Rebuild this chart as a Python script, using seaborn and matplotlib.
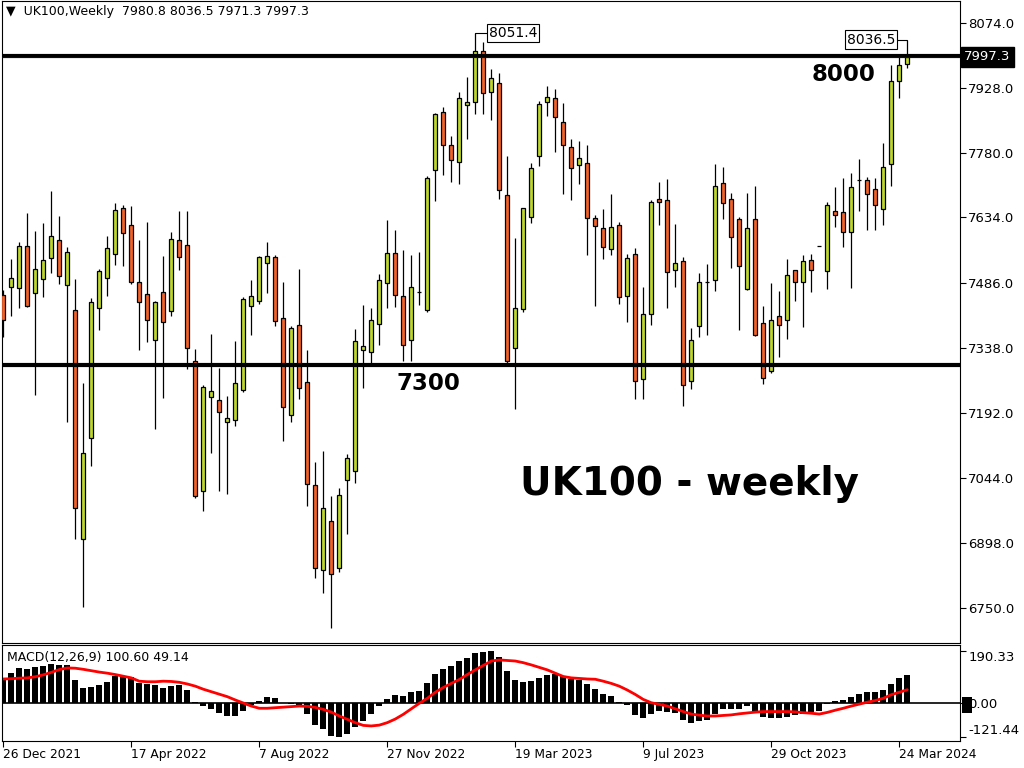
import numpy as np
import pandas as pd
import matplotlib
matplotlib.use("Agg")
import matplotlib.pyplot as plt
import matplotlib.transforms as mtransforms
from matplotlib.patches import Rectangle
import seaborn as sns

# weekly OHLC, UK100
opens = [7458, 7476, 7474, 7569, 7462, 7494, 7543, 7584, 7480, 7424,
         6906, 7134, 7428, 7496, 7551, 7655, 7616, 7489, 7460, 7356,
         7465, 7422, 7582, 7571, 7308, 7016, 7227, 7220, 7170, 7175,
         7244, 7433, 7446, 7532, 7544, 7406, 7188, 7390, 7261, 7028,
         6835, 6946, 6840, 7039, 7060, 7333, 7329, 7392, 7485, 7553,
         7456, 7356, 7466, 7424, 7741, 7872, 7797, 7759, 7888, 7895,
         8010, 7917, 7938, 7684, 7338, 7426, 7634, 7772, 7895, 7904,
         7849, 7793, 7752, 7757, 7632, 7609, 7562, 7616, 7456, 7551,
         7268, 7415, 7675, 7673, 7514, 7535, 7263, 7388, 7489, 7492,
         7711, 7675, 7630, 7471, 7630, 7394, 7286, 7412, 7401, 7514,
         7489, 7537, 7570, 7512, 7648, 7646, 7600, 7718, 7718, 7698,
         7652, 7754, 7942, 7980.8]
highs = [7470, 7540, 7578, 7644, 7603, 7621, 7694, 7637, 7566, 7495,
         7259, 7452, 7517, 7592, 7667, 7662, 7660, 7583, 7624, 7444,
         7547, 7600, 7649, 7649, 7336, 7255, 7370, 7294, 7230, 7354,
         7453, 7492, 7546, 7578, 7549, 7488, 7388, 7517, 7334, 7081,
         7106, 7004, 7021, 7099, 7381, 7436, 7429, 7506, 7628, 7606,
         7560, 7549, 7556, 7728, 7870, 7883, 7818, 7918, 7952, 8051.4,
         8030, 7971, 7961, 7773, 7587, 7656, 7757, 7898, 7931, 7925,
         7894, 7812, 7807, 7798, 7640, 7653, 7687, 7624, 7551, 7564,
         7477, 7673, 7714, 7721, 7619, 7544, 7384, 7508, 7529, 7755,
         7748, 7689, 7635, 7689, 7705, 7434, 7486, 7468, 7540, 7516,
         7549, 7552, 7570, 7668, 7703, 7723, 7735, 7766, 7725, 7723,
         7803, 7978, 7996, 8036.5]
lows = [7363, 7412, 7428, 7432, 7233, 7455, 7509, 7484, 7170, 6907,
        6753, 7072, 7380, 7457, 7527, 7525, 7484, 7333, 7351, 7155,
        7226, 7412, 7516, 7290, 6998, 6970, 7102, 7016, 7009, 7163,
        7240, 7368, 7437, 7462, 7389, 7129, 7172, 7224, 6980, 6817,
        6783, 6704, 6832, 6917, 7032, 7247, 7305, 7345, 7428, 7432,
        7308, 7308, 7436, 7421, 7672, 7729, 7715, 7710, 7811, 7869,
        7869, 7855, 7675, 7304, 7200, 7421, 7622, 7751, 7864, 7781,
        7686, 7674, 7709, 7550, 7434, 7539, 7550, 7437, 7398, 7222,
        7222, 7391, 7618, 7428, 7477, 7208, 7245, 7364, 7369, 7468,
        7631, 7520, 7380, 7469, 7366, 7256, 7281, 7319, 7360, 7446,
        7387, 7465, 7570, 7471, 7613, 7566, 7475, 7649, 7606, 7606,
        7618, 7704, 7904, 7971.3]
closes = [7401, 7498, 7569, 7434, 7517, 7537, 7591, 7501, 7555, 6976,
          7102, 7442, 7512, 7564, 7650, 7598, 7487, 7442, 7403, 7442,
          7397, 7585, 7544, 7338, 7004, 7250, 7241, 7193, 7179, 7259,
          7449, 7456, 7544, 7546, 7399, 7204, 7383, 7247, 7030, 6840,
          6976, 6826, 7005, 7089, 7355, 7342, 7401, 7492, 7553, 7458,
          7345, 7476, 7465, 7723, 7867, 7797, 7763, 7904, 7895, 8010,
          7915, 7949, 7695, 7308, 7428, 7655, 7745, 7890, 7906, 7861,
          7797, 7745, 7768, 7632, 7614, 7566, 7612, 7453, 7542, 7263,
          7415, 7670, 7668, 7510, 7532, 7254, 7356, 7487, 7489, 7704,
          7666, 7589, 7523, 7609, 7369, 7270, 7401, 7390, 7503, 7489,
          7535, 7514, 7570, 7661, 7639, 7600, 7702, 7718, 7686, 7661,
          7747, 7942, 7980, 7997.3]

# MACD(12,26,9) histogram and signal line
macd_main = [93, 110, 128, 124, 133, 135, 142, 140, 140, 85,
             57, 59, 66, 77, 97, 99, 95, 75, 71, 66,
             56, 63, 66, 48, 5, -10, -19, -34, -45, -45,
             -27, -7, 7, 23, 19, 0, -1, -11, -37, -77,
             -92, -117, -121.44, -112, -85, -63, -37, -11, 16, 30,
             27, 40, 45, 75, 106, 124, 135, 153, 164, 182,
             186, 190.33, 168, 117, 85, 77, 81, 92, 103, 107,
             99, 89, 85, 71, 52, 34, 27, 5, -5, -41,
             -52, -37, -27, -30, -36, -60, -70, -63, -59, -39,
             -22, -21, -19, -11, -31, -49, -52, -55, -48, -43,
             -39, -31, -27, -2, 7, 12, 23, 35, 40, 41,
             48, 70, 92, 100.60]
macd_signal = [88, 89, 91, 92, 96, 103, 112, 122, 128, 127,
               123, 118, 113, 109, 104, 98, 92, 80, 78, 78,
               80, 79, 76, 70, 62, 51, 42, 33, 24, 12,
               1, -10, -18, -18, -16, -14, -12, -10, -11, -15,
               -22, -32, -46, -58, -70, -80, -82, -79, -70, -57,
               -40, -20, 0, 18, 40, 57, 72, 86, 104, 121,
               137, 153, 157, 155, 153, 147, 139, 130, 121, 109,
               97, 92, 90, 88, 87, 80, 72, 62, 48, 32,
               14, 2, -4, -10, -20, -30, -39, -43, -46, -46,
               -44, -42, -38, -35, -32, -30, -30, -30, -30, -31,
               -34, -36, -39, -33, -25, -18, -10, -3, 4, 10,
               18, 31, 40, 49.14]

date_ticks = [0, 16, 32, 48, 64, 80, 96, 112]
date_labels = ['26 Dec 2021', '17 Apr 2022', '7 Aug 2022', '27 Nov 2022',
               '19 Mar 2023', '9 Jul 2023', '29 Oct 2023', '24 Mar 2024']
price_ticks = [8074.0, 7928.0, 7780.0, 7634.0, 7486.0, 7338.0, 7192.0, 7044.0, 6898.0, 6750.0]
macd_ticks = [190.33, 0.0, -121.44]
levels = [8000, 7300]
last_price = 7997.3

GREEN = '#BFD730'
ORANGE = '#F4622A'

sns.set_theme(style="white")
plt.rcParams['font.family'] = ['DejaVu Sans']
plt.rcParams['text.color'] = 'black'

W, H = 1024, 768
fig = plt.figure(figsize=(W / 100, H / 100), dpi=100)


def px_rect(x0, y0, x1, y1):
    return [x0 / W, 1 - y1 / H, (x1 - x0) / W, (y1 - y0) / H]


ax = fig.add_axes(px_rect(2, 1, 960, 643))
ax2 = fig.add_axes(px_rect(2, 645, 960, 741))

df = pd.DataFrame({'open': opens, 'high': highs, 'low': lows, 'close': closes})
df['week'] = np.arange(len(df))
bull = df['close'] >= df['open']
body_lo = df[['open', 'close']].min(axis=1)
body_hi = df[['open', 'close']].max(axis=1)

# candles
ax.vlines(df['week'], df['low'], df['high'], color='black', lw=0.9, zorder=2)
ax.bar(df['week'], body_hi - body_lo, bottom=body_lo, width=0.5,
       color=np.where(bull, GREEN, ORANGE), edgecolor='black', linewidth=0.9, zorder=3)

for lv in levels:
    ax.axhline(lv, color='black', lw=3.0, zorder=4)
ax.axhline(last_price, color='#000080', lw=0.7, zorder=5)

ax.set_xlim(-0.1625, 119.59)
ax.set_ylim(6670.9, 8123.8)

# annotations
ax.text(101.09, 7943.4, '8000', fontsize=16.5, fontweight='bold', color='black',
        ha='left', va='baseline', zorder=6)
ax.text(49.09, 7243.5, '7300', fontsize=16.5, fontweight='bold', color='black',
        ha='left', va='baseline', zorder=6)
ax.text(64.59, 7005.9, 'UK100 - weekly', fontsize=28, fontweight='bold', color='black',
        ha='left', va='baseline', zorder=6)

ax.plot([59, 60.45], [8051.4, 8051.4], color='black', lw=0.8, zorder=5)
ax.text(60.7, 8051.4, '8051.4', fontsize=10, ha='left', va='center', zorder=6,
        bbox=dict(boxstyle='square,pad=0.15', fc='white', ec='black', lw=0.8))
ax.plot([111.75, 113], [8036.5, 8036.5], color='black', lw=0.8, zorder=5)
ax.text(111.5, 8036.5, '8036.5', fontsize=10, ha='right', va='center', zorder=6,
        bbox=dict(boxstyle='square,pad=0.15', fc='white', ec='black', lw=0.8))

ax.yaxis.tick_right()
ax.set_yticks(price_ticks, labels=[f'{v:.1f}' for v in price_ticks])
ax.tick_params(axis='y', right=True, left=False, labelright=True, labelleft=False,
               direction='out', length=4, width=0.8, colors='black', labelsize=9.5, pad=2)
ax.set_xticks([])

trans = mtransforms.blended_transform_factory(ax.transAxes, ax.transData)
ax.text(1.0 + 4 / 958, last_price, f'{last_price:.1f}', transform=trans, color='white',
        fontsize=9.5, ha='left', va='center', clip_on=False, zorder=10,
        bbox=dict(boxstyle='square,pad=0.25', fc='black', ec='black'))

# MACD panel
sns.barplot(x=df['week'], y=macd_main, native_scale=True, color='black', width=0.8,
            saturation=1, errorbar=None, edgecolor='black', linewidth=0, ax=ax2)
sns.lineplot(x=df['week'], y=macd_signal, color='red', linewidth=2, ax=ax2)
ax2.axhline(0, color='black', lw=1.2, zorder=1)
ax2.set_xlim(-0.1625, 119.59)
ax2.set_ylim(-136.5, 211)
ax2.set_xlabel('')
ax2.set_ylabel('')

ax2.set_xticks(date_ticks, labels=date_labels)
for lbl in ax2.get_xticklabels():
    lbl.set_ha('left')
ax2.tick_params(axis='x', bottom=True, direction='out', length=4, width=0.8,
                colors='black', labelsize=8.8, pad=1)
ax2.yaxis.tick_right()
ax2.set_yticks(macd_ticks, labels=['190.33', '0.00', '-121.44'])
ax2.tick_params(axis='y', right=True, left=False, labelright=True, labelleft=False,
                direction='out', length=4, width=0.8, colors='black', labelsize=9.5, pad=2)
ylbls = ax2.get_yticklabels()
ylbls[0].set_va('top')
ylbls[2].set_va('bottom')

for a in (ax, ax2):
    for s in a.spines.values():
        s.set_color('black')
        s.set_linewidth(0.8)

fig.add_artist(Rectangle((962 / W, 1 - 713 / H), 10 / W, 16 / H, transform=fig.transFigure,
                         fc='black', ec='none', zorder=-1))

fig.text(6 / W, 1 - 12 / H, '\u25bc  UK100,Weekly  7980.8 8036.5 7971.3 7997.3',
         fontsize=9, va='center', ha='left', color='black')
fig.text(7 / W, 1 - 657 / H, 'MACD(12,26,9) 100.60 49.14', fontsize=9, va='center',
         ha='left', color='black')

fig.savefig('out.png', dpi=100)
